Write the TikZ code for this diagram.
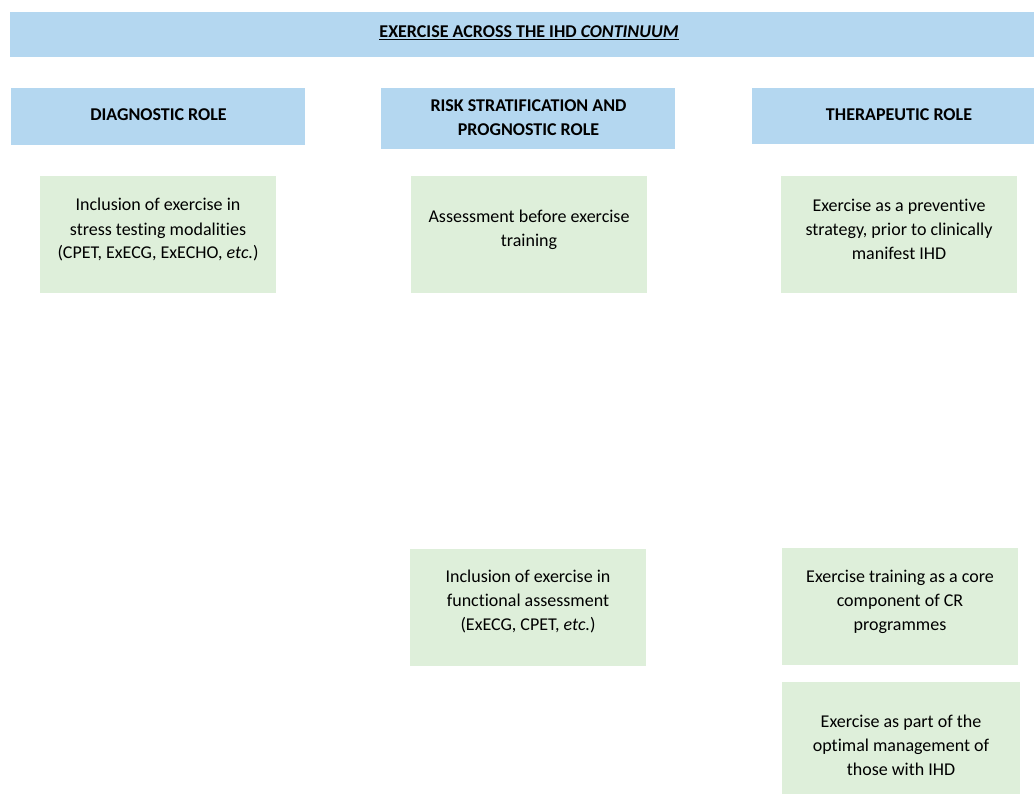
\documentclass[tikz,border=0pt]{standalone}
\usepackage{fontspec}
\setmainfont[Ligatures=NoCommon]{Carlito}
\usetikzlibrary{positioning}
\definecolor{hdblue}{HTML}{B4D7F0}
\definecolor{bxgreen}{HTML}{DEEFDA}
\tikzset{hdbx/.style={inner sep=0pt, rectangle, fill=hdblue, minimum width=294pt},
    grbx/.style={inner sep=0pt, rectangle, fill=bxgreen, minimum width=236pt, minimum height=117pt},
    txt/.style={inner sep=0pt, align=center, font=\fontsize{18}{24}\selectfont}}

\begin{document}
\begin{tikzpicture}[x=1pt, y=-1pt]
                        \useasboundingbox (0, 0) rectangle (1034, 794);
                        % headings
                        \node[hdbx, minimum width=1038pt, minimum height=45pt] (top) at (529, 34.5) {};
                        \node[txt] (toptxt) at (529, 32.5) {\textbf{\underline{EXERCISE ACROSS THE IHD \textit{CONTINUUM}}}};
                        \node[hdbx, minimum height=57pt] (diag) at (158, 116.5) {};
                        \node[txt] (diagtxt) at (158.5, 114.5) {\textbf{DIAGNOSTIC ROLE}};
                        \node[hdbx, minimum height=61pt] (risk) at (528, 118.5) {};
                        \node[txt] (risktxt) at (528.5, 117.5) {\textbf{RISK STRATIFICATION AND}\\\textbf{PROGNOSTIC ROLE}};
                        \node[hdbx, minimum height=56pt] (ther) at (899, 116) {};
                        \node[txt] (thertxt) at (899, 114.5) {\textbf{THERAPEUTIC ROLE}};
                        % boxes
                        \node[grbx] (d1) at (158, 235) {};
                        \node[txt] (d1txt) at (158, 230) {Inclusion of exercise in\\stress testing modalities\\(CPET, ExECG, ExECHO, \textit{etc.})};
                        \node[grbx] (r1) at (529, 235) {};
                        \node[txt] (r1txt) at (529, 230) {Assessment before exercise\\training};
                        \node[grbx] (t1) at (899, 235) {};
                        \node[txt] (t1txt) at (899, 229.5) {Exercise as a preventive\\strategy, prior to clinically\\manifest IHD};
                        \node[grbx] (r2) at (528, 607.5) {};
                        \node[txt] (r2txt) at (528, 601.5) {Inclusion of exercise in\\functional assessment\\(ExECG, CPET, \textit{etc.})};
                        \node[grbx] (t2) at (900, 606.5) {};
                        \node[txt] (t2txt) at (900, 601.5) {Exercise training as a core\\component of CR\\programmes};
                        \node[grbx, minimum width=238pt, minimum height=124pt] (t3) at (901, 744) {};
                        \node[txt] (t3txt) at (901, 745.5) {Exercise as part of the\\optimal management of\\those with IHD};
                    \end{tikzpicture}
\end{document}
